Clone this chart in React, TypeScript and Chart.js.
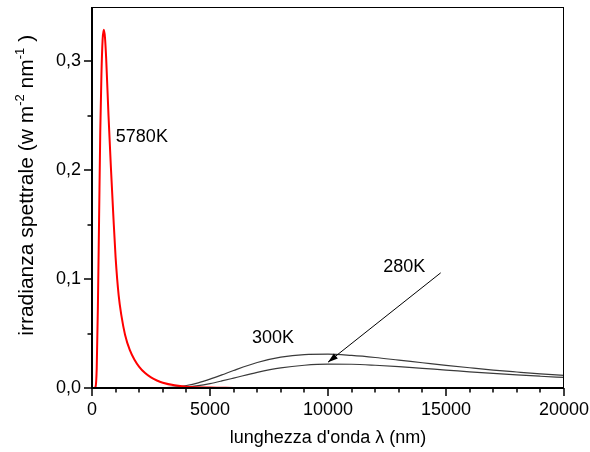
import React, { useEffect, useRef } from 'react';
import { Chart, registerables } from 'chart.js';

Chart.register(...registerables);

// wavelengths (nm) and spectral irradiance values
const wavelength5780 = [0, 100, 150, 200, 250, 300, 350, 400, 450, 500, 550, 600, 700, 800, 900, 1000, 1130, 1250, 1400, 1600, 1800, 2000, 2250, 2500, 2750, 3000, 3500, 4000, 5000, 6000];
const irradiance5780 = [0, 0, 0.001, 0.018, 0.075, 0.155, 0.235, 0.288, 0.32, 0.329, 0.322, 0.303, 0.25, 0.203, 0.16, 0.12, 0.085, 0.066, 0.049, 0.035, 0.026, 0.0195, 0.0137, 0.0097, 0.0069, 0.0049, 0.0025, 0.0012, 0.0004, 0.0001];

const wavelengthIR = [3000, 3500, 4000, 4500, 5000, 5500, 6000, 7000, 8000, 9000, 10000, 11000, 12000, 13000, 14000, 15000, 16000, 17000, 18000, 19000, 20000];
const irradiance300 = [0.0002, 0.0008, 0.0023, 0.0047, 0.0081, 0.012, 0.0161, 0.0234, 0.0283, 0.0307, 0.0311, 0.0299, 0.028, 0.0256, 0.0232, 0.0208, 0.0186, 0.0165, 0.0147, 0.013, 0.0116];
const irradiance280 = [0.0001, 0.0003, 0.001, 0.0022, 0.0041, 0.0065, 0.0091, 0.0144, 0.0185, 0.0209, 0.0219, 0.0218, 0.0209, 0.0196, 0.018, 0.0165, 0.0149, 0.0134, 0.012, 0.0108, 0.0097];

const xTickValues = [0, 5000, 10000, 15000, 20000];
const yTickValues = [0, 0.1, 0.2, 0.3];

const seriesLabels = ['5780K', '300K', '280K'];

const FONT = '"Liberation Sans", Arial, Helvetica, sans-serif';

export default function App() {
  const ref = useRef<HTMLCanvasElement>(null);

  useEffect(() => {
    const canvas = ref.current;
    if (!canvas) return;
    const pts = (xs: number[], ys: number[]) => xs.map((x, i) => ({ x, y: ys[i] }));

    const decor = {
      id: 'decor',
      afterDraw(chart: any) {
        const { ctx, chartArea: a, scales } = chart;
        const xs = scales.x;
        const ys = scales.y;
        ctx.save();
        ctx.strokeStyle = '#000';
        // frame: thin top/right
        ctx.lineWidth = 1;
        ctx.beginPath();
        ctx.moveTo(a.left, a.top + 0.5);
        ctx.lineTo(a.right, a.top + 0.5);
        ctx.moveTo(a.right - 0.5, a.top);
        ctx.lineTo(a.right - 0.5, a.bottom);
        ctx.stroke();
        // axes
        ctx.lineWidth = 2;
        ctx.beginPath();
        ctx.moveTo(a.left, a.top);
        ctx.lineTo(a.left, a.bottom + 1);
        ctx.moveTo(a.left - 1, a.bottom);
        ctx.lineTo(a.right, a.bottom);
        ctx.stroke();
        // ticks
        ctx.lineWidth = 1.5;
        ctx.beginPath();
        for (let v = 0; v <= 20000; v += 1000) {
          const px = Math.round(xs.getPixelForValue(v));
          const len = v % 5000 === 0 ? 8 : 4.5;
          ctx.moveTo(px, a.bottom);
          ctx.lineTo(px, a.bottom + len);
        }
        for (let k = 0; k < 7; k++) {
          const v = k * 0.05;
          const py = Math.round(ys.getPixelForValue(v));
          const len = k % 2 === 0 ? 8 : 4.5;
          ctx.moveTo(a.left, py);
          ctx.lineTo(a.left - len, py);
        }
        ctx.stroke();

        // y title with superscripts
        const fs = 21;
        const sup = 13;
        const parts: [string, boolean][] = [
          ['irradianza spettrale (w m', false],
          ['-2', true],
          [' nm', false],
          ['-1', true],
          [' )', false],
        ];
        let total = 0;
        for (const [t, s] of parts) {
          ctx.font = `${s ? sup : fs}px ${FONT}`;
          total += ctx.measureText(t).width;
        }
        ctx.fillStyle = '#000';
        ctx.translate(33, a.top + (a.bottom - a.top) * 0.468);
        ctx.rotate(-Math.PI / 2);
        let cx = -total / 2;
        ctx.textBaseline = 'alphabetic';
        ctx.textAlign = 'left';
        for (const [t, s] of parts) {
          ctx.font = `${s ? sup : fs}px ${FONT}`;
          ctx.fillText(t, cx, s ? -fs * 0.42 : 0);
          cx += ctx.measureText(t).width;
        }
        ctx.restore();

        // annotations
        ctx.save();
        ctx.fillStyle = '#000';
        ctx.font = `18px ${FONT}`;
        ctx.textAlign = 'left';
        ctx.textBaseline = 'alphabetic';
        ctx.fillText(seriesLabels[0], xs.getPixelForValue(1010), ys.getPixelForValue(0.226));
        ctx.fillText(seriesLabels[1], xs.getPixelForValue(6780), ys.getPixelForValue(0.0415));
        ctx.fillText(seriesLabels[2], xs.getPixelForValue(12340), ys.getPixelForValue(0.1062));
        // arrow
        const x0 = xs.getPixelForValue(14775);
        const y0 = ys.getPixelForValue(0.1058);
        const x1 = xs.getPixelForValue(10000);
        const y1 = ys.getPixelForValue(0.0237);
        ctx.strokeStyle = '#000';
        ctx.lineWidth = 1;
        ctx.beginPath();
        ctx.moveTo(x0, y0);
        ctx.lineTo(x1, y1);
        ctx.stroke();
        const ang = Math.atan2(y1 - y0, x1 - x0);
        const L = 10;
        const W = 3.2;
        ctx.beginPath();
        ctx.moveTo(x1, y1);
        ctx.lineTo(x1 - L * Math.cos(ang) + W * Math.sin(ang), y1 - L * Math.sin(ang) - W * Math.cos(ang));
        ctx.lineTo(x1 - L * Math.cos(ang) - W * Math.sin(ang), y1 - L * Math.sin(ang) + W * Math.cos(ang));
        ctx.closePath();
        ctx.fill();
        ctx.restore();
      },
    };

    const chart = new Chart(canvas, {
      type: 'line',
      data: {
        datasets: [
          {
            label: seriesLabels[0],
            data: pts(wavelength5780, irradiance5780),
            borderColor: '#ff0000',
            borderWidth: 2,
            pointRadius: 0,
            cubicInterpolationMode: 'monotone',
          },
          {
            label: seriesLabels[1],
            data: pts(wavelengthIR, irradiance300),
            borderColor: '#3a3a3a',
            borderWidth: 1.2,
            pointRadius: 0,
            cubicInterpolationMode: 'monotone',
          },
          {
            label: seriesLabels[2],
            data: pts(wavelengthIR, irradiance280),
            borderColor: '#3a3a3a',
            borderWidth: 1.2,
            pointRadius: 0,
            cubicInterpolationMode: 'monotone',
          },
        ],
      },
      options: {
        animation: false,
        responsive: false,
        events: [],
        layout: { padding: { left: 0, top: 7, right: 26, bottom: 0 } },
        plugins: { legend: { display: false }, tooltip: { enabled: false } },
        scales: {
          x: {
            type: 'linear',
            min: 0,
            max: 20000,
            grid: { display: false, drawTicks: false },
            border: { display: false },
            afterBuildTicks: (s: any) => {
              s.ticks = xTickValues.map((value) => ({ value }));
            },
            ticks: {
              padding: 11,
              maxRotation: 0,
              autoSkip: false,
              color: '#000',
              font: { family: FONT, size: 18 },
              callback: (v: any) => String(v),
            },
            title: {
              display: true,
              text: "lunghezza d'onda λ (nm)",
              color: '#000',
              font: { family: FONT, size: 18 },
              padding: { top: 0, bottom: 3 },
            },
            afterFit: (s: any) => {
              s.height = 64;
              s.paddingLeft = 0;
              s.paddingRight = 0;
            },
          },
          y: {
            type: 'linear',
            min: 0,
            max: 0.35,
            grid: { display: false, drawTicks: false },
            border: { display: false },
            afterBuildTicks: (s: any) => {
              s.ticks = yTickValues.map((value) => ({ value }));
            },
            ticks: {
              padding: 11,
              autoSkip: false,
              color: '#000',
              font: { family: FONT, size: 18 },
              callback: (v: any) => Number(v).toFixed(1).replace('.', ','),
            },
            afterFit: (s: any) => {
              s.width = 92;
              s.paddingTop = 0;
              s.paddingBottom = 0;
            },
          },
        },
      },
      plugins: [decor],
    } as any);

    return () => chart.destroy();
  }, []);

  return (
    <div style={{ position: 'absolute', left: 0, top: 0, width: 590, height: 452, background: '#fff' }}>
      <canvas ref={ref} width={590} height={452} style={{ display: 'block', width: 590, height: 452 }} />
    </div>
  );
}
